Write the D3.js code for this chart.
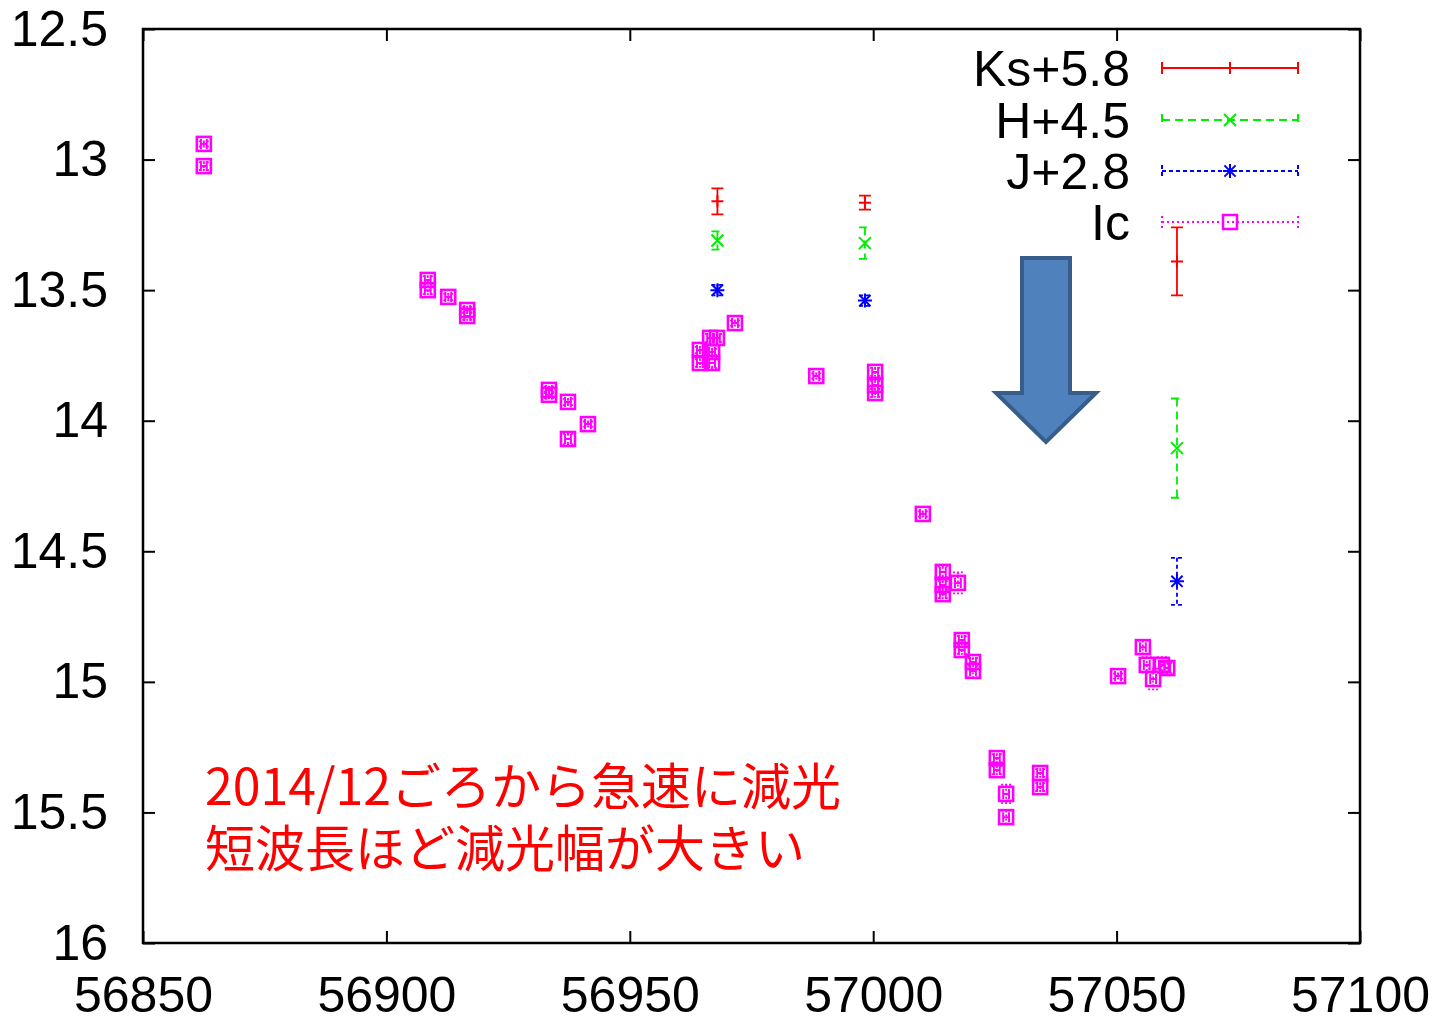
<!DOCTYPE html>
<html>
<head>
<meta charset="utf-8">
<title>light curve</title>
<script src="https://cdnjs.cloudflare.com/ajax/libs/d3/7.8.5/d3.min.js"></script>
<style>
  body { margin: 0; background: #fff; }
  text { font-family: "Liberation Sans", Arial, sans-serif; }
</style>
</head>
<body>
<div id="chart"></div>
<script>
// Ic band (MJD, mag, error in mag)
var icMjd = [56862.5, 56862.5, 56908.5, 56908.5, 56912.7, 56916.6, 56916.6,
  56933.4, 56933.4, 56937.3, 56937.3, 56941.4,
  56964.4, 56964.4, 56966.9, 56966.9, 56966.5, 56967.9, 56971.6,
  56988.3, 57000.4, 57000.4, 57000.4, 57010.2,
  57014.3, 57014.3, 57014.3, 57017.4, 57018.2, 57018.2, 57020.5, 57020.5,
  57025.4, 57025.4, 57027.3, 57027.3, 57034.3, 57034.3,
  57050.3, 57055.4, 57056.2, 57057.5, 57059.3, 57060.4];
var icMag = [12.940, 13.025, 13.461, 13.500, 13.526, 13.576, 13.599,
  13.882, 13.901, 13.928, 14.070, 14.013,
  13.729, 13.779, 13.737, 13.779, 13.683, 13.683, 13.626,
  13.829, 13.813, 13.863, 13.894, 14.357,
  14.579, 14.629, 14.664, 14.621, 14.840, 14.878, 14.924, 14.958,
  15.292, 15.338, 15.429, 15.518, 15.349, 15.403,
  14.978, 14.867, 14.935, 14.989, 14.935, 14.947];
var icErr = [0.01, 0.015, 0.015, 0.015, 0.012, 0.012, 0.015,
  0.012, 0.012, 0.012, 0.02, 0.01,
  0.012, 0.015, 0.012, 0.02, 0.015, 0.015, 0.01,
  0.01, 0.015, 0.015, 0.015, 0.01,
  0.02, 0.015, 0.015, 0.04, 0.015, 0.015, 0.015, 0.025,
  0.015, 0.015, 0.035, 0.025, 0.015, 0.015,
  0.01, 0.025, 0.03, 0.04, 0.03, 0.02];
var icXerr = 0.6;

// near-infrared bands (shifted)
var irMjd = [56968.0, 56998.3, 57062.4];
var ksMag = [13.160, 13.165, 13.390];
var ksErr = [0.050, 0.027, 0.130];
var hMag = [13.310, 13.320, 14.105];
var hErr = [0.035, 0.060, 0.190];
var jMag = [13.500, 13.540, 14.615];
var jErr = [0.020, 0.020, 0.090];

var xTicks = [56850, 56900, 56950, 57000, 57050, 57100];
var yTicks = [12.5, 13, 13.5, 14, 14.5, 15, 15.5, 16];
var legendLabels = ["Ks+5.8", "H+4.5", "J+2.8", "Ic"];
var noteLines = ["2014/12ごろから急速に減光", "短波長ほど減光幅が大きい"];

var W = 1449, H = 1019;
var mL = 143, mR = 1360, mT = 29, mB = 943;

var svg = d3.select("#chart").append("svg")
  .attr("width", W).attr("height", H);

var x = d3.scaleLinear().domain([56850, 57100]).range([mL, mR]);
var y = d3.scaleLinear().domain([12.5, 16]).range([mT, mB]);

var RED = "#ff0000", GREEN = "#00ee00", BLUE = "#0000ff", MAG = "#ff00ff";

// frame
svg.append("rect")
  .attr("x", mL).attr("y", mT)
  .attr("width", mR - mL).attr("height", mB - mT)
  .attr("fill", "none").attr("stroke", "#000").attr("stroke-width", 2.5);

// axes (ticks pointing inwards, on all four sides)
var tickLen = 12;
svg.append("g").attr("transform", "translate(0," + mB + ")")
  .call(d3.axisBottom(x).tickValues(xTicks).tickSize(-tickLen).tickPadding(33).tickFormat(d3.format("d")))
  .call(function (g) { g.select(".domain").remove(); });
svg.append("g").attr("transform", "translate(0," + mT + ")")
  .call(d3.axisTop(x).tickValues(xTicks).tickSize(-tickLen).tickFormat(""))
  .call(function (g) { g.select(".domain").remove(); });
svg.append("g").attr("transform", "translate(" + mL + ",0)")
  .call(d3.axisLeft(y).tickValues(yTicks).tickSize(-tickLen).tickPadding(35).tickFormat(d3.format("")))
  .call(function (g) { g.select(".domain").remove(); });
svg.append("g").attr("transform", "translate(" + mR + ",0)")
  .call(d3.axisRight(y).tickValues(yTicks).tickSize(-tickLen).tickFormat(""))
  .call(function (g) { g.select(".domain").remove(); });

svg.selectAll(".tick line").attr("stroke", "#000").attr("stroke-width", 2);
svg.selectAll(".tick text")
  .attr("fill", "#000")
  .style("font-size", "50px")
  .style("font-family", "'Liberation Sans', Arial, sans-serif");

// marker drawing helpers
function plus(g, cx, cy, s, col) {
  g.append("path").attr("d", "M" + (cx - s) + "," + cy + "H" + (cx + s) + "M" + cx + "," + (cy - s) + "V" + (cy + s))
    .attr("stroke", col).attr("stroke-width", 2).attr("fill", "none");
}
function cross(g, cx, cy, s, col) {
  g.append("path").attr("d", "M" + (cx - s) + "," + (cy - s) + "L" + (cx + s) + "," + (cy + s) +
      "M" + (cx - s) + "," + (cy + s) + "L" + (cx + s) + "," + (cy - s))
    .attr("stroke", col).attr("stroke-width", 2).attr("fill", "none");
}
function star(g, cx, cy, s, col) {
  plus(g, cx, cy, s, col);
  cross(g, cx, cy, s * 0.8, col);
}
function square(g, cx, cy, s, col, sw) {
  g.append("rect").attr("x", cx - s).attr("y", cy - s).attr("width", 2 * s).attr("height", 2 * s)
    .attr("fill", "none").attr("stroke", col).attr("stroke-width", sw || 2);
}
function yErrBar(g, cx, m, e, col, dash, cap) {
  g.append("path")
    .attr("d", "M" + cx + "," + y(m - e) + "V" + y(m + e) +
      "M" + (cx - cap) + "," + y(m - e) + "H" + (cx + cap) +
      "M" + (cx - cap) + "," + y(m + e) + "H" + (cx + cap))
    .attr("stroke", col).attr("stroke-width", 1.8).attr("fill", "none")
    .attr("stroke-dasharray", dash);
}

// Ic points: x and y error bars, square markers
var gIc = svg.append("g");
icMjd.forEach(function (d, i) {
  var cx = x(d), cy = y(icMag[i]);
  var x0 = x(d - icXerr), x1 = x(d + icXerr);
  gIc.append("path")
    .attr("d", "M" + x0 + "," + cy + "H" + x1 +
      "M" + x0 + "," + (cy - 5) + "V" + (cy + 5) +
      "M" + x1 + "," + (cy - 5) + "V" + (cy + 5))
    .attr("stroke", MAG).attr("stroke-width", 2).attr("fill", "none");
  yErrBar(gIc, cx, icMag[i], icErr[i], MAG, "2,2", 5);
  square(gIc, cx, cy, 7, MAG, 2.6);
});

// infrared points
var gIr = svg.append("g");
irMjd.forEach(function (d, i) {
  var cx = x(d);
  yErrBar(gIr, cx, ksMag[i], ksErr[i], RED, null, 6);
  plus(gIr, cx, y(ksMag[i]), 6, RED);
  yErrBar(gIr, cx, hMag[i], hErr[i], GREEN, "8,5", 6);
  cross(gIr, cx, y(hMag[i]), 6, GREEN);
  yErrBar(gIr, cx, jMag[i], jErr[i], BLUE, "4,3", 6);
  star(gIr, cx, y(jMag[i]), 7, BLUE);
});

// legend
var legY = [68, 120, 171, 222];
var legCols = [RED, GREEN, BLUE, MAG];
var legDash = [null, "8,5", "4,3", "2,3"];
var lx0 = 1162, lx1 = 1298, lxc = 1230;
var gLeg = svg.append("g");
legendLabels.forEach(function (lab, i) {
  var ly = legY[i];
  gLeg.append("text").attr("x", 1130).attr("y", ly + 18)
    .attr("text-anchor", "end").style("font-size", "50px").text(lab);
  gLeg.append("path")
    .attr("d", "M" + lx0 + "," + ly + "H" + lx1 +
      "M" + lx0 + "," + (ly - 6) + "V" + (ly + 6) +
      "M" + lx1 + "," + (ly - 6) + "V" + (ly + 6))
    .attr("stroke", legCols[i]).attr("stroke-width", 2).attr("fill", "none")
    .attr("stroke-dasharray", legDash[i]);
  if (i === 0) plus(gLeg, lxc, ly, 6, RED);
  if (i === 1) cross(gLeg, lxc, ly, 6, GREEN);
  if (i === 2) star(gLeg, lxc, ly, 7, BLUE);
  if (i === 3) square(gLeg, lxc, ly, 7, MAG, 2.5);
});

// big down arrow
var ax = 1046, aw = 24, hw = 50, aTop = 258, aNeck = 393, aTip = 442;
svg.append("path")
  .attr("d", "M" + (ax - aw) + "," + aTop + "H" + (ax + aw) + "V" + aNeck + "H" + (ax + hw) +
    "L" + ax + "," + aTip + "L" + (ax - hw) + "," + aNeck + "H" + (ax - aw) + "Z")
  .attr("fill", "#4f81bd").attr("stroke", "#385d8a").attr("stroke-width", 4)
  .attr("stroke-linejoin", "miter");

// annotation
svg.append("g").selectAll("text").data(noteLines).join("text")
  .attr("x", 205).attr("y", function (d, i) { return 805 + i * 62; })
  .attr("fill", RED)
  .style("font-family", "'Noto Sans CJK JP', sans-serif")
  .style("font-size", "50px")
  .text(function (d) { return d; });
</script>
</body>
</html>
